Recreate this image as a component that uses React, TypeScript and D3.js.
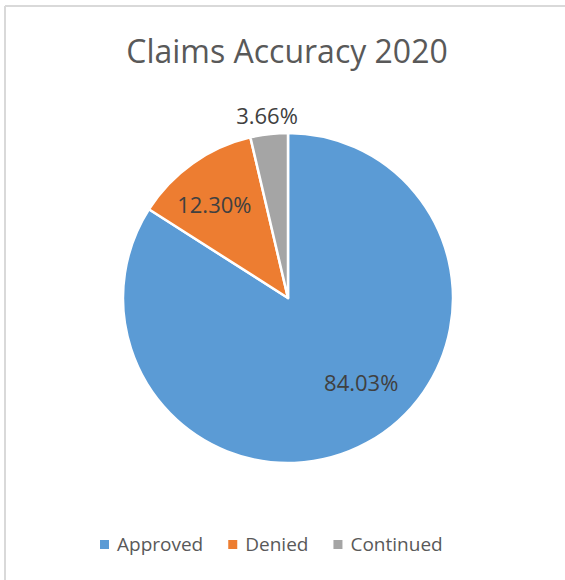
import React, { useEffect, useRef } from "react";
import * as d3 from "d3";

const categories = ["Approved", "Denied", "Continued"];
const values = [84.03, 12.3, 3.66];
const labels = ["84.03%", "12.30%", "3.66%"];
const colors = ["#5B9BD5", "#ED7D31", "#A5A5A5"];
const title = "Claims Accuracy 2020";

// label placement (fraction of radius, angular offset in degrees)
const labelRadius = [0.68, 0.72, 1.11];
const labelAngleOffset = [-12, -3, 0];

const W = 565;
const H = 580;
const cx = 288;
const cy = 298;
const R = 165;

export default function App() {
  const ref = useRef<SVGSVGElement>(null);

  useEffect(() => {
    const svg = d3.select(ref.current);
    svg.selectAll("*").remove();

    // border lines (top & left)
    svg.append("line").attr("x1", 5).attr("x2", W).attr("y1", 6).attr("y2", 6)
      .attr("stroke", "#d9d9d9").attr("stroke-width", 2);
    svg.append("line").attr("x1", 5).attr("x2", 5).attr("y1", 6).attr("y2", H)
      .attr("stroke", "#d9d9d9").attr("stroke-width", 2);

    svg.append("text")
      .attr("x", 287).attr("y", 63)
      .attr("text-anchor", "middle")
      .attr("font-family", "'Open Sans', sans-serif")
      .attr("font-size", 32)
      .attr("fill", "#595959")
      .text(title);

    const pie = d3.pie<number>().sort(null).value((d) => d);
    const arcs = pie(values);
    const arc = d3.arc<d3.PieArcDatum<number>>().innerRadius(0).outerRadius(R);

    const g = svg.append("g").attr("transform", `translate(${cx},${cy})`);
    g.selectAll("path")
      .data(arcs)
      .enter()
      .append("path")
      .attr("d", arc as any)
      .attr("fill", (_d, i) => colors[i])
      .attr("stroke", "#ffffff")
      .attr("stroke-width", 2.5)
      .attr("stroke-linejoin", "round");

    g.selectAll("text.lbl")
      .data(arcs)
      .enter()
      .append("text")
      .attr("class", "lbl")
      .attr("x", (d, i) => {
        const a = (d.startAngle + d.endAngle) / 2 + (labelAngleOffset[i] * Math.PI) / 180;
        return Math.sin(a) * R * labelRadius[i];
      })
      .attr("y", (d, i) => {
        const a = (d.startAngle + d.endAngle) / 2 + (labelAngleOffset[i] * Math.PI) / 180;
        return -Math.cos(a) * R * labelRadius[i];
      })
      .attr("dy", "0.35em")
      .attr("text-anchor", "middle")
      .attr("font-family", "'Open Sans', sans-serif")
      .attr("font-size", 22)
      .attr("fill", "#404040")
      .text((_d, i) => labels[i]);

    // legend
    const lg = svg.append("g");
    let x = 100;
    const gap = 25;
    categories.forEach((c, i) => {
      lg.append("rect").attr("x", x).attr("y", 540).attr("width", 9).attr("height", 9)
        .attr("fill", colors[i]);
      const t = lg.append("text")
        .attr("x", x + 17).attr("y", 551)
        .attr("font-family", "'Open Sans', sans-serif")
        .attr("font-size", 19)
        .attr("fill", "#595959")
        .text(c);
      const w = (t.node() as SVGTextElement).getComputedTextLength();
      x = x + 17 + w + gap;
    });
  }, []);

  return (
    <svg ref={ref} width={W} height={H} style={{ position: "absolute", left: 0, top: 0, background: "#fff" }} />
  );
}
